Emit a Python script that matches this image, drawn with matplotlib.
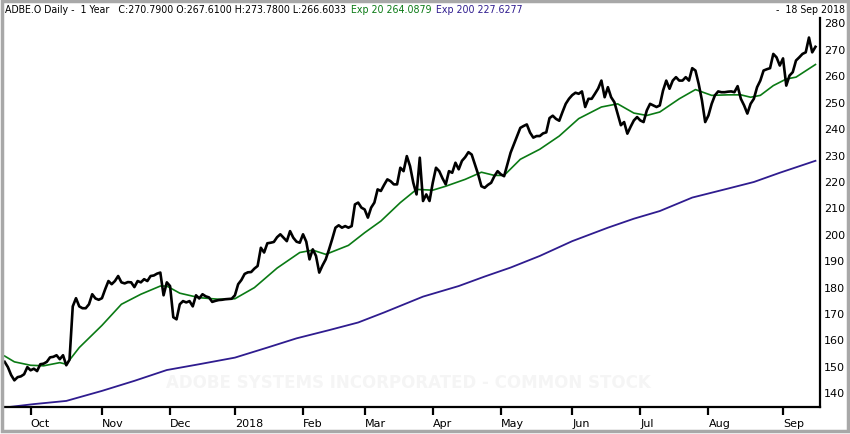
import numpy as np
import pandas as pd
import matplotlib
matplotlib.use('Agg')
import matplotlib.pyplot as plt
from matplotlib.patches import Rectangle

# trading days: 20 Sep 2017 .. 18 Sep 2018 (NYSE holidays removed)
start, end = '2017-09-20', '2018-09-18'
holidays = ['2017-11-23', '2017-12-25', '2018-01-01', '2018-01-15', '2018-02-19',
            '2018-03-30', '2018-05-28', '2018-07-04', '2018-09-03']

# daily close
close = [
    151.5, 149.5, 146.5, 144.5, 145.7, 146.0, 146.8, 149.5, 148.3, 148.9,
    148.0, 150.6, 150.8, 151.5, 153.2, 153.4, 154.0, 152.5, 154.0, 150.2,
    152.3, 172.5, 175.6, 172.5, 171.8, 171.8, 173.3, 177.1, 175.5, 175.0,
    175.6, 179.0, 182.1, 180.9, 182.1, 184.0, 181.6, 181.2, 181.7, 181.6,
    179.8, 182.1, 181.6, 182.8, 182.1, 184.0, 184.2, 184.9, 185.3, 176.7,
    181.6, 180.2, 168.4, 167.6, 173.3, 174.5, 174.0, 174.5, 172.5, 176.7,
    175.5, 177.1, 176.3, 175.9, 174.2, 174.6, 174.9, 175.0, 175.2, 175.3,
    175.4, 176.7, 180.9, 182.5, 184.8, 185.4, 185.5, 186.8, 187.8, 194.7,
    192.9, 196.4, 196.6, 196.9, 198.7, 199.8, 198.5, 197.2, 201.0, 198.5,
    197.0, 196.6, 199.8, 197.0, 190.3, 194.1, 191.6, 185.3, 188.0, 190.3,
    194.0, 198.0, 202.3, 203.2, 202.3, 202.9, 202.3, 202.9, 211.1, 211.8,
    209.9, 209.2, 206.1, 209.9, 211.8, 216.8, 216.2, 218.5, 220.6, 219.9,
    218.7, 218.7, 225.0, 223.7, 229.4, 225.6, 219.3, 214.9, 228.8, 212.4,
    214.9, 212.4, 219.3, 225.0, 223.7, 221.0, 218.7, 223.7, 223.1, 226.9,
    224.4, 227.6, 229.0, 230.9, 230.0, 226.3, 222.5, 218.0, 217.4, 218.5,
    219.3, 221.8, 223.7, 222.5, 221.8, 226.3, 230.7, 233.8, 237.0, 240.1,
    240.8, 241.4, 238.3, 236.4, 237.0, 237.0, 238.0, 238.4, 243.8, 244.7,
    243.5, 242.8, 246.1, 249.2, 251.1, 252.5, 253.4, 253.0, 253.9, 248.0,
    251.1, 251.1, 253.0, 255.0, 258.0, 251.7, 255.5, 251.7, 249.8, 245.5,
    241.1, 242.3, 237.9, 240.5, 242.9, 244.2, 242.9, 242.3, 246.7, 249.2,
    248.6, 248.0, 248.6, 254.2, 258.0, 254.9, 258.0, 259.3, 258.0, 258.0,
    259.3, 258.0, 262.7, 261.8, 256.7, 250.5, 242.3, 244.8, 249.2, 252.4,
    253.9, 253.6, 253.6, 253.8, 253.9, 253.6, 255.9, 251.1, 248.6, 245.5,
    249.2, 251.1, 255.5, 258.0, 261.8, 262.3, 262.7, 268.1, 266.8, 263.7,
    266.4, 256.1, 259.9, 261.2, 265.6, 266.8, 268.1, 268.7, 274.3, 268.7,
    270.79,
]

# exponential averages, read at sample days (trading-day number)
ema20_days = [0, 3, 8, 12, 17, 19, 23, 30, 36, 42, 48, 50, 54, 60, 66, 71, 77, 84,
              91, 95, 99, 106, 111, 116, 122, 127, 132, 136, 142, 147, 151, 154,
              159, 165, 171, 177, 184, 189, 194, 198, 202, 208, 213, 218, 223,
              227, 230, 233, 237, 241, 244, 250]
ema20 = [153.7, 151.5, 150.2, 150.0, 151.2, 150.6, 156.9, 165.3, 173.3, 177.1,
         180.2, 180.2, 177.5, 175.8, 175.2, 175.4, 179.6, 187.0, 192.9, 193.8,
         192.2, 195.6, 200.4, 204.8, 211.8, 216.8, 216.5, 218.0, 220.6, 223.3,
         222.1, 222.1, 228.2, 232.0, 237.0, 243.6, 248.0, 249.2, 245.7, 244.8,
         246.1, 251.1, 254.6, 252.4, 252.6, 252.6, 251.7, 252.4, 256.1, 258.6,
         259.3, 264.0879]

ema200_days = [0, 9, 19, 30, 40, 50, 60, 71, 81, 90, 100, 109, 117, 129, 140, 148,
               156, 165, 175, 186, 194, 202, 212, 223, 231, 239, 250]
ema200 = [134.2, 135.5, 136.7, 140.5, 144.3, 148.4, 150.6, 153.1, 156.9, 160.4,
          163.5, 166.4, 170.2, 176.2, 180.2, 183.8, 187.2, 191.6, 197.2, 202.3,
          205.7, 208.6, 213.7, 217.1, 219.6, 223.1, 227.6277]

month_labels = ['Oct', 'Nov', 'Dec', '2018', 'Feb', 'Mar', 'Apr', 'May', 'Jun',
                'Jul', 'Aug', 'Sep']
y_ticks = list(range(140, 290, 10))

dates = pd.bdate_range(start, end, freq='C', holidays=holidays)
month = dates.to_period('M')
month_starts = [i for i in range(1, len(dates)) if month[i] != month[i - 1]]

green = '#0a7a14'
purple = '#2f1c8f'

fig = plt.figure(figsize=(8.5, 4.35), dpi=100)
ax = fig.add_axes([4 / 850, 27 / 435, 816 / 850, 389 / 435])

x = np.arange(len(close))
ax.plot(ema200_days, ema200, color=purple, lw=1.3, zorder=2)
ax.plot(ema20_days, ema20, color=green, lw=1.2, zorder=3)
ax.plot(x, close, color='black', lw=1.9, zorder=4)

ax.text(0.495, 0.064, 'ADOBE SYSTEMS INCORPORATED - COMMON STOCK', transform=ax.transAxes,
        ha='center', va='center', fontsize=12, fontweight='bold', color='#f5f5f5', zorder=1)

ax.set_xlim(-0.2, 251.4)
ax.set_ylim(134.4, 281.7)

ax.spines['top'].set_visible(False)
ax.spines['left'].set_visible(False)
ax.spines['right'].set_linewidth(1.6)
ax.spines['bottom'].set_linewidth(1.6)

ax.yaxis.tick_right()
ax.set_yticks(y_ticks)
ax.tick_params(axis='y', length=0, pad=3, labelsize=8)
ax.set_xticks(month_starts, month_labels[:len(month_starts)])
ax.tick_params(axis='x', length=6, width=1.6, pad=2, labelsize=8)
for lab in ax.get_xticklabels():
    lab.set_ha('left')

# header line, pieces placed one after another
hdr = dict(fontsize=7.6, family=['Liberation Sans Narrow', 'DejaVu Sans'], fontstretch='condensed')
t1 = fig.text(5 / 850, 0.977, 'ADBE.O Daily -  1 Year   C:270.7900 O:267.6100 H:273.7800 L:266.6033',
              ha='left', va='center', **hdr)
t2 = fig.text(0, 0.977, 'Exp 20 264.0879', va='center', color=green, **hdr)
t3 = fig.text(0, 0.977, 'Exp 200 227.6277', va='center', color=purple, **hdr)
fig.text(845 / 850, 0.977, '-  18 Sep 2018', ha='right', va='center', **hdr)

r = fig.canvas.get_renderer()
inv = fig.transFigure.inverted()
b1 = t1.get_window_extent(r)
t2.set_x(inv.transform((b1.x1 + 5, 0))[0])
b2 = t2.get_window_extent(r)
t3.set_x(inv.transform((b2.x1 + 5, 0))[0])

fig.patches.append(Rectangle((0.002, 0.006), 0.996, 0.99, transform=fig.transFigure,
                             fill=False, edgecolor='#a8a8a8', lw=2.5))

fig.savefig('out.png', dpi=100)
